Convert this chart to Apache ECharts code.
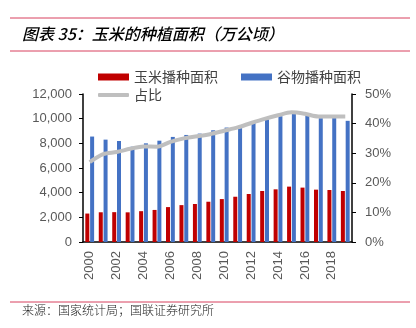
<!DOCTYPE html>
<html><head><meta charset="utf-8">
<script src="https://cdn.jsdelivr.net/npm/echarts@6/dist/echarts.min.js"></script>
<style>html,body{margin:0;padding:0;background:#fff}#c{width:416px;height:328px}</style>
</head><body><div id="c"></div>
<script>
var years = ['2000','2001','2002','2003','2004','2005','2006','2007','2008','2009','2010','2011','2012','2013','2014','2015','2016','2017','2018','2019'];
var cornArea = [2306,2410,2420,2405,2500,2600,2830,2990,3080,3265,3480,3670,3890,4135,4270,4490,4410,4245,4215,4135];
var grainArea = [8550,8300,8190,7730,8000,8215,8520,8680,8790,9060,9280,9385,9660,9930,10200,10420,10260,10040,10050,9825];
var ratio = [27.0,29.7,30.4,31.5,32.3,32.2,33.8,35.0,35.7,36.5,37.6,38.7,40.2,41.6,42.8,43.8,43.3,42.4,42.4,42.4];
var leftTicks = [0,2000,4000,6000,8000,10000,12000];
var rightTicks = [0,10,20,30,40,50];

var chart = echarts.init(document.getElementById('c'));
var lab = {color:'#595959', fontSize:13, fontFamily:'Liberation Sans, Arial, sans-serif'};
chart.setOption({
  animation:false,
  grid:{left:83, right:64, top:94, bottom:86},
  legend:[
    {left:93, top:65, itemWidth:31, itemHeight:7, itemGap:23, icon:'rect',
     textStyle:{color:'#404040', fontSize:14, fontFamily:'Noto Sans CJK SC'},
     data:['玉米播种面积','谷物播种面积']},
    {left:93, top:83, itemWidth:31, itemHeight:4, icon:'roundRect',
     textStyle:{color:'#404040', fontSize:14, fontFamily:'Noto Sans CJK SC'},
     data:['占比']}
  ],
  xAxis:{type:'category', data:years, boundaryGap:true,
    axisLine:{lineStyle:{color:'#000', width:1.5}},
    axisTick:{interval:1, length:5, lineStyle:{color:'#000'}},
    axisLabel:Object.assign({interval:1, rotate:90, margin:9}, lab)},
  yAxis:[
    {type:'value', min:0, max:12000, interval:2000,
     axisLine:{show:true, lineStyle:{color:'#000', width:1.5}},
     axisTick:{show:true, length:4, lineStyle:{color:'#000'}},
     splitLine:{show:false},
     axisLabel:Object.assign({margin:11, formatter:function(v){return v.toLocaleString('en-US');}}, lab)},
    {type:'value', min:0, max:50, interval:10, position:'right',
     axisLine:{show:true, lineStyle:{color:'#000', width:1.5}},
     axisTick:{show:true, length:4, lineStyle:{color:'#000'}},
     splitLine:{show:false},
     axisLabel:Object.assign({margin:13, formatter:'{value}%'}, lab)}
  ],
  series:[
    {name:'玉米播种面积', type:'bar', data:cornArea, barWidth:4, barGap:'20%', itemStyle:{color:'#C00000'}},
    {name:'谷物播种面积', type:'bar', data:grainArea, barWidth:4, barGap:'20%', itemStyle:{color:'#4472C4'}},
    {name:'占比', type:'line', yAxisIndex:1, data:ratio, smooth:0.3, showSymbol:false, symbol:'none',
     lineStyle:{color:'#BFBFBF', width:4}, itemStyle:{color:'#BFBFBF'}}
  ],
  graphic:[
    {type:'line', shape:{x1:10,y1:18,x2:410,y2:18}, style:{stroke:'#D8405E', lineWidth:1}},
    {type:'line', shape:{x1:10,y1:51,x2:410,y2:51}, style:{stroke:'#D8405E', lineWidth:1}},
    {type:'line', shape:{x1:10,y1:302,x2:410,y2:302}, style:{stroke:'#D8405E', lineWidth:1}},
    {type:'text', left:22, top:26, style:{text:'图表 35：玉米的种植面积（万公顷）', fill:'#000',
      font:'italic 500 16px "Noto Sans CJK SC"'}},
    {type:'text', left:22, top:304, style:{text:'来源：国家统计局；国联证券研究所', fill:'#222',
      font:'300 12px "Noto Sans CJK SC"'}}
  ]
});
</script></body></html>
